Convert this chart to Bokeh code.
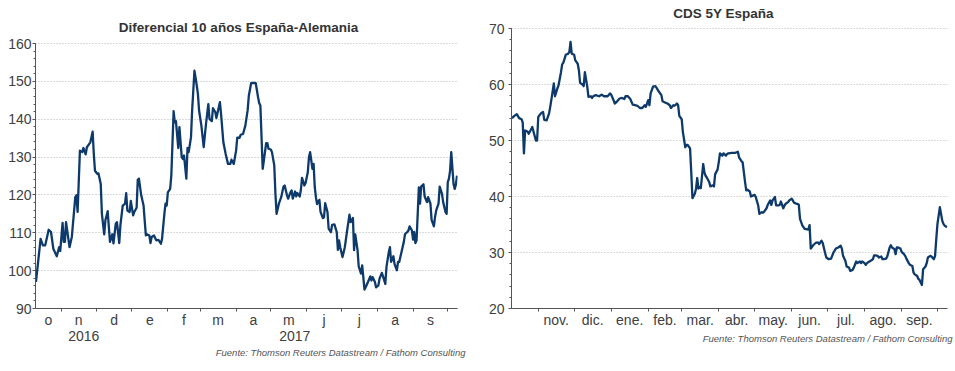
from datetime import date
from bokeh.plotting import figure
from bokeh.layouts import row
from bokeh.models import Range1d, FixedTicker, LinearAxis, CustomJSTickFormatter, Title, Label
from bokeh.embed import file_html
from bokeh.resources import INLINE

# x values: days since 2016-10-01
ORIGIN = date(2016, 10, 1)
X_START, X_END = 8.6, 373.4

spread_days = [9, 13, 15, 17, 20, 22, 24, 27, 29, 30, 32, 33, 34, 35, 38, 40, 43, 44, 45, 47,
               49, 50, 52, 53, 56, 58, 59, 60, 62, 63, 65, 66, 68, 69, 71, 72, 73, 75, 76, 78,
               79, 81, 82, 84, 86, 87, 88, 90, 91, 93, 94, 96, 97, 98, 100, 102, 104, 105, 107, 108,
               109, 111, 113, 115, 117, 118, 120, 121, 122, 123, 125, 126, 128, 129, 130, 132, 133,
               135, 136, 137, 139, 140, 141, 143, 144, 146, 148, 149, 150, 152, 154, 156, 158, 159, 161,
               162, 164, 165, 167, 168, 169, 171, 173, 175, 177, 178, 180, 182, 183, 185, 186, 188, 190,
               192, 193, 195, 197, 199, 201, 202, 203, 205, 206, 208, 209, 210, 212, 213, 215, 216, 217,
               219, 221, 223, 224, 226, 227, 229, 230, 231, 233, 234, 235, 237, 238, 239, 241, 242, 244,
               245, 246, 248, 249, 250, 251, 252, 254, 255,
               257, 258, 259, 261, 262, 264, 265, 267, 269, 270, 271, 272, 274, 276, 278, 280, 281, 283,
               284, 285, 287, 288, 290, 291, 293, 294, 296, 298, 299, 300, 302, 303, 305, 306, 308, 309,
               311, 312, 314, 315, 316, 318, 319, 321, 322, 323, 325, 327, 328, 330, 331, 332, 334, 335,
               336, 337, 338, 340, 341, 342, 344, 345, 347, 348, 350, 351, 353, 354, 355, 357, 358, 360,
               361, 363, 364, 365, 366, 367, 368, 370, 371, 372, 373]
spread_vals = [97.0, 108.4, 106.7, 106.7, 110.8, 110.2, 105.8, 103.8, 106.2, 105.2, 112.6, 107.6, 107.6, 112.8,
               106.2, 108.9, 119.4, 119.9, 115.5, 131.7, 131.3, 132.4, 130.7, 132.6, 133.9, 136.7, 130.8, 126.4,
               125.6, 125.7, 122.9, 115.0, 109.6, 113.3, 115.7, 111.5, 107.6, 109.6, 107.2, 112.4, 112.8, 107.3,
               112.0, 117.2, 117.7, 120.5, 115.9, 115.5, 118.4, 114.6, 115.5, 116.6, 124.0, 124.3, 119.9, 117.2,
               109.3, 109.6, 109.3, 107.3, 108.9, 109.3, 108.0, 108.1, 107.1, 108.4, 115.0, 117.7, 117.2, 120.7,
               121.6, 125.1, 142.1, 139.2, 139.5, 132.4, 137.9,
               130.0, 129.5, 130.4, 124.3, 132.4, 131.3, 135.2, 142.3, 152.8, 148.9, 146.7, 142.3, 138.3, 132.6,
               138.8, 144.0, 140.1, 139.5, 142.9, 141.9, 140.3, 143.1, 144.5, 141.4, 133.9, 130.8, 128.2, 128.2,
               129.3, 128.2, 131.7, 135.1, 135.1, 135.9, 136.1, 138.3, 142.4, 146.2, 149.5, 149.6, 149.5, 145.8,
               144.2, 143.6, 126.9, 129.1, 133.7, 133.7, 132.2, 132.0, 131.3, 127.8, 120.3, 115.0, 117.7, 119.4,
               122.2, 122.5, 119.9, 119.0, 120.7, 121.2, 119.0, 120.9, 119.6, 120.5, 119.6, 121.3, 124.5, 122.5,
               123.1, 126.0, 130.0, 131.3, 126.9, 128.2, 122.1, 119.4, 117.6, 118.7, 115.5,
               113.9, 114.1, 117.8, 115.5, 111.1, 110.2, 112.1, 112.2, 110.2, 105.5, 108.0, 106.2, 103.6, 106.2,
               110.6, 114.8, 112.8, 113.9, 105.4, 109.6, 105.4, 101.1, 99.2, 101.4, 95.0, 95.6, 97.0, 98.5,
               97.4, 98.3, 97.0, 95.6, 96.1, 97.9, 99.4, 98.5, 96.5, 101.0, 104.9, 106.2, 102.3, 103.8,
               101.7, 100.1, 102.3, 102.3, 104.9, 107.6, 109.6, 110.2, 110.6, 111.7, 110.6, 108.2, 110.2, 107.3,
               108.0, 122.0, 117.7, 122.2, 122.8, 119.6, 118.1, 119.4, 117.7, 113.4, 111.7, 114.2, 115.9, 117.7,
               122.2, 120.3, 118.1, 115.5, 115.0, 123.4, 124.3, 126.4, 131.3, 122.8, 121.6, 122.7, 125.1]

cds_days = [9, 11, 13, 15, 17, 18, 19, 20, 22, 23, 25, 26, 27, 29, 30, 31, 33, 35, 36, 38,
            40, 41, 43, 44, 45, 47, 48, 50, 51, 52, 54, 56, 57, 58, 59, 61, 62, 64, 65, 66,
            68, 69, 70, 72, 73, 75, 76, 77, 79, 82, 84, 86, 89, 91, 92, 94, 95, 97, 99, 101,
            103, 104, 106, 108, 110, 112, 114, 116, 118, 120, 121, 123, 124, 125, 127,
            129, 130, 132, 134, 135, 137, 139, 141, 142, 144, 145, 147, 148, 149, 151, 152, 154, 155,
            156, 158, 159, 160, 162, 163, 164, 165, 166, 167, 169, 170, 171, 172, 174, 175, 177, 178,
            179, 181, 182, 183, 185, 186, 188, 189, 190, 193, 196, 198, 199, 201, 202, 204, 205, 206,
            208, 209, 211, 212, 213, 215, 216, 218, 219, 220, 222, 223, 225, 226, 227, 229, 230, 232,
            233, 234, 236, 237, 238, 240, 241, 243, 244, 245, 247,
            248, 249, 250, 252, 254, 257, 258, 259, 261, 263, 265, 266, 268, 269, 271, 272, 274, 276,
            278, 280, 282, 284, 285, 286, 288, 289, 291, 292, 294, 295, 297, 298, 300, 301, 302, 304,
            305, 306, 308, 309, 311, 312, 313, 315, 316, 318, 319, 320, 322, 323, 325, 326, 327, 329,
            330, 331, 332, 334, 335, 337, 338, 339, 341, 342, 344, 345, 346, 348, 349, 350, 352, 353,
            355, 356, 357, 359, 360, 362, 363, 364, 365, 366, 367, 369, 370, 371, 373]
cds_vals = [54.0, 54.4, 54.7, 54.0, 53.8, 53.2, 47.7, 51.8, 51.6, 51.2, 52.0, 52.4, 51.6, 50.0, 50.0, 54.2,
            54.8, 55.1, 53.7, 53.6, 54.8, 56.0, 58.7, 60.2, 57.9, 59.3, 59.9, 62.2, 63.6, 63.9, 65.3, 65.5,
            65.8, 67.6, 65.5, 65.3, 64.3, 63.7, 62.5, 60.3, 60.0, 59.7, 62.2, 59.6, 57.8, 57.9, 57.6, 57.9,
            58.1, 57.9, 58.2, 57.9, 57.9, 58.4, 58.2, 57.2, 56.6, 57.0, 57.5, 57.6, 57.4, 57.9, 57.9, 57.4,
            56.4, 56.3, 56.2, 55.8, 55.8, 56.3, 56.0, 57.2, 56.3, 58.4, 59.6,
            59.7, 59.4, 58.7, 58.1, 57.0, 56.8, 56.6, 56.3, 55.8, 56.3, 56.2, 56.6, 56.3, 54.4, 53.8, 51.5,
            48.8, 49.2, 49.2, 48.6, 44.3, 39.7, 40.5, 41.4, 43.3, 41.4, 41.7, 41.5, 45.8, 44.3, 43.7, 43.4,
            42.6, 41.8, 42.0, 41.8, 44.0, 44.8, 46.1, 47.7, 47.3, 47.7, 47.3, 47.6, 47.7, 47.8, 47.8, 48.0,
            47.0, 46.3, 46.1, 42.6, 41.1, 41.2, 40.9, 40.0, 40.2, 40.3, 39.9, 38.4, 36.9, 37.2, 37.1, 37.3,
            37.9, 38.5, 39.3, 38.5, 39.3, 39.9, 38.4, 38.4, 38.5, 39.1, 37.9, 38.4, 38.7, 39.0, 39.3, 39.6,
            39.3, 38.9, 38.7,
            38.7, 38.5, 36.0, 34.8, 34.2, 34.1, 34.9, 30.7, 31.3, 31.7, 31.8, 31.5, 32.1, 31.7, 29.9, 29.1,
            28.8, 28.9, 30.0, 30.7, 30.9, 31.2, 30.7, 29.4, 28.5, 27.5, 27.3, 26.7, 26.9, 27.3, 28.4, 28.1,
            28.4, 28.1, 28.4, 28.1, 27.8, 28.1, 28.4, 28.5, 28.8, 29.5, 29.5, 29.4, 29.1, 29.3, 28.8, 28.8,
            28.9, 29.3, 30.9, 31.3, 30.9, 30.6, 29.7, 30.9, 30.9, 30.7, 30.1, 29.7, 29.4, 28.9, 28.1, 27.8,
            27.6, 26.4, 26.1, 25.8, 25.3, 25.1, 24.2, 27.0, 27.5, 28.1, 29.1, 29.4, 29.3, 28.8, 29.4, 32.4,
            35.1, 36.6, 38.1, 35.7, 35.1, 34.8, 34.5]

left_title = "Diferencial 10 años España-Alemania"
right_title = "CDS 5Y España"
source_text = "Fuente: Thomson Reuters Datastream / Fathom Consulting"
left_month_labels = ["o", "n", "d", "e", "f", "m", "a", "m", "j", "j", "a", "s"]
right_month_labels = ["", "nov.", "dic.", "ene.", "feb.", "mar.", "abr.", "may.", "jun.", "jul.", "ago.", "sep."]
year_labels = ["2016", "2017"]
left_y_ticks = [90, 100, 110, 120, 130, 140, 150, 160]
right_y_ticks = [20, 30, 40, 50, 60, 70]

months = [(2016, 10), (2016, 11), (2016, 12), (2017, 1), (2017, 2), (2017, 3), (2017, 4),
          (2017, 5), (2017, 6), (2017, 7), (2017, 8), (2017, 9), (2017, 10), (2017, 11)]
month_starts = [(date(y, m, 1) - ORIGIN).days for y, m in months]
year_start_2017 = (date(2017, 1, 1) - ORIGIN).days

month_centers = []
for i in range(12):
    a = max(month_starts[i], X_START)
    b = min(month_starts[i + 1], X_END)
    month_centers.append((a + b) / 2)
month_bounds = [m for m in month_starts if X_START < m < X_END]
year_centers = [(X_START + year_start_2017) / 2, (year_start_2017 + X_END) / 2]

FONT = "Liberation Sans"
TEXT = "#404040"
AXIS = "#555555"
LINE = "#0d3a6b"

# layout (pixels inside each figure): both plot frames span y = 8..308 (they are aligned in a row);
# the value axes only run from TOP_PX down to 308, the space above holds the chart titles.
FRAME_TOP, FRAME_BOTTOM = 8, 308
FIG_H = 362


def fmt(positions, labels):
    return CustomJSTickFormatter(args=dict(pos=positions, labs=labels), code="""
        for (let i = 0; i < pos.length; i++) {
            if (Math.abs(pos[i] - tick) < 1e-6) { return labs[i]; }
        }
        return "";
    """)


def make_fig(width, ylo, yhi, axis_top_px, yticks, border_l, border_r, ylabel_standoff):
    per_px = (yhi - ylo) / (FRAME_BOTTOM - axis_top_px)
    ytop = yhi + (axis_top_px - FRAME_TOP) * per_px
    p = figure(width=width, height=FIG_H, x_range=Range1d(X_START, X_END),
               y_range=Range1d(ylo, ytop), output_backend="svg", toolbar_location=None,
               min_border_left=border_l, min_border_right=border_r,
               min_border_top=FRAME_TOP, min_border_bottom=FIG_H - FRAME_BOTTOM)
    p.title = None
    p.outline_line_color = None
    p.background_fill_color = "white"
    p.border_fill_color = "white"

    p.xgrid.visible = False
    p.ygrid.grid_line_color = "#b4b4b4"
    p.ygrid.grid_line_dash = "1 2"
    p.ygrid.grid_line_width = 1

    ya = p.yaxis[0]
    ya.bounds = (ylo, yhi)
    ya.ticker = FixedTicker(ticks=yticks, minor_ticks=list(range(ylo, yhi + 1, 2)))
    ya.axis_line_color = AXIS
    ya.major_tick_line_color = AXIS
    ya.minor_tick_line_color = AXIS
    ya.major_tick_out = 3
    ya.major_tick_in = 0
    ya.minor_tick_out = 2
    ya.minor_tick_in = 0
    ya.major_label_standoff = ylabel_standoff
    ya.major_label_text_font = FONT
    ya.major_label_text_font_size = "14px"
    ya.major_label_text_color = TEXT
    return p, per_px


def style_xaxis(ax, labels):
    ax.ticker = FixedTicker(ticks=month_centers, minor_ticks=month_bounds)
    ax.formatter = fmt(month_centers, labels)
    ax.axis_line_color = AXIS
    ax.major_tick_line_color = None
    ax.major_tick_out = 0
    ax.major_tick_in = 0
    ax.minor_tick_line_color = AXIS
    ax.minor_tick_out = 3
    ax.minor_tick_in = 0
    ax.major_label_standoff = 0
    ax.major_label_text_font = FONT
    ax.major_label_text_font_size = "14px"
    ax.major_label_text_color = TEXT


def add_title(p, text, x, y):
    p.add_layout(Label(x=x, y=y, text=text, text_align="center", text_baseline="middle",
                       text_font=FONT, text_font_size="13.5px", text_font_style="bold",
                       text_color="#333333"))


# ---- left chart: frame x 35..457
p1, left_per_px = make_fig(475, 90, 160, 43, left_y_ticks, 35, 18, 1)
style_xaxis(p1.xaxis[0], left_month_labels)
yr_axis = LinearAxis(ticker=FixedTicker(ticks=year_centers, minor_ticks=[]),
                     formatter=fmt(year_centers, year_labels))
yr_axis.axis_line_color = None
yr_axis.major_tick_line_color = None
yr_axis.minor_tick_line_color = None
yr_axis.major_tick_out = 0
yr_axis.major_tick_in = 0
yr_axis.major_label_standoff = 0
yr_axis.major_label_text_font = FONT
yr_axis.major_label_text_font_size = "14px"
yr_axis.major_label_text_color = TEXT
p1.add_layout(yr_axis, "below")
src1 = Title(text=source_text, align="right", text_font=FONT, text_font_size="9.5px",
             text_font_style="italic", text_color="#555555", offset=-8, standoff=2)
p1.add_layout(src1, "below")
p1.line(spread_days, spread_vals, line_color=LINE, line_width=2.3, line_join="round")
add_title(p1, left_title, X_START + (238 - 35) * (X_END - X_START) / 422, 160 + (43 - 27) * left_per_px)

# ---- right chart: frame x 511..947
p2, right_per_px = make_fig(478, 20, 70, 28, right_y_ticks, 36, 6, 4)
style_xaxis(p2.xaxis[0], right_month_labels)
src2 = Title(text=source_text, align="right", text_font=FONT, text_font_size="9.5px",
             text_font_style="italic", text_color="#555555", offset=-5, standoff=0)
p2.add_layout(src2, "below")
p2.line(cds_days, cds_vals, line_color=LINE, line_width=2.3, line_join="round")
add_title(p2, right_title, X_START + (723 - 511) * (X_END - X_START) / 436, 70 + (28 - 12.5) * right_per_px)

layout = row(p1, p2)
open("out.html", "w").write(file_html(layout, INLINE))
